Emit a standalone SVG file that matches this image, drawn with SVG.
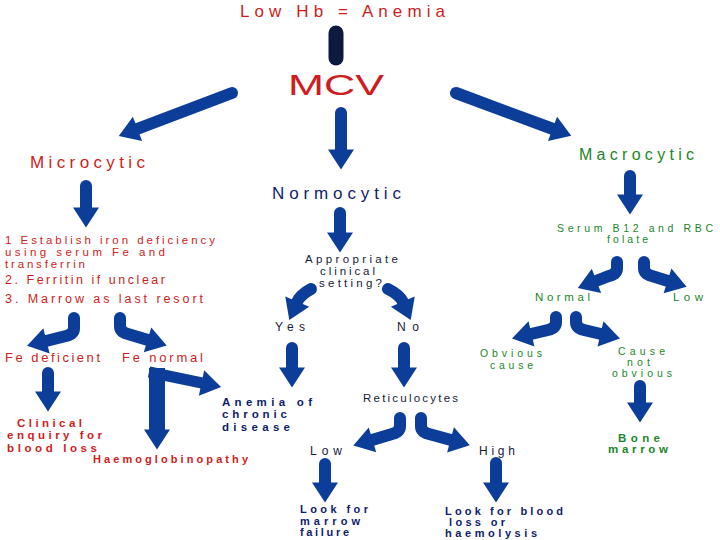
<svg xmlns="http://www.w3.org/2000/svg" width="720" height="540" viewBox="0 0 720 540">
<style>
text{font-family:"Liberation Sans",Arial,sans-serif;}
.r{fill:#d01c1c}.g{fill:#21862a}.n{fill:#101c6c}.k{fill:#161a3a}
.b{font-weight:bold}
.a{fill:none;stroke:#0b3d99;stroke-width:12;stroke-linecap:round;marker-end:url(#ah)}
.sq{stroke-linecap:butt;stroke-linejoin:miter}
</style>
<defs>
<marker id="ah" markerUnits="userSpaceOnUse" markerWidth="20" markerHeight="26" viewBox="0 0 20 26" refX="0.5" refY="13" orient="auto" overflow="visible">
<path d="M0,0 L20,13 L0,26 Z" fill="#0b3d99"/>
</marker>
</defs>
<rect width="720" height="540" fill="#fff"/>
<g id="connectors">
<line x1="336" y1="33" x2="336" y2="58" stroke="#0b1a3e" stroke-width="15" stroke-linecap="round"/>
<path class="a" d="M232,93 L137,129"/>
<path class="a" d="M341,113 V150"/>
<path class="a" d="M456,93 L553,129"/>
<path class="a" d="M86,186 V208"/>
<path class="a" d="M74,318 L74,328 Q74,334 66,336 L46,341"/>
<path class="a" d="M120,318 L120,326 Q120,332 128,334 L148,340"/>
<path class="a" d="M48,373 V392"/>
<path class="a sq" style="stroke-width:16" d="M157,368 V430"/>
<path class="a sq" style="stroke-width:11" d="M149,372 L202,383"/>
<path class="a" d="M340,213 V233"/>
<path class="a" d="M311,289 Q300,295 297,302"/>
<path class="a" d="M388,289 Q400,295 403,302"/>
<path class="a" d="M292,348 V368"/>
<path class="a" d="M404,348 V368"/>
<path class="a" d="M400,418 L400,426 Q400,432 392,434 L372,440"/>
<path class="a" d="M421,418 L421,426 Q421,432 429,434 L451,440"/>
<path class="a" d="M325,464 V483"/>
<path class="a" d="M496,463 V483"/>
<path class="a" d="M630,176 V195"/>
<path class="a" d="M617,262 L617,268 Q617,274 609,276 L596,281"/>
<path class="a" d="M644,262 L644,268 Q644,274 652,276 L668,281"/>
<path class="a" d="M556,317 L556,322 Q556,328 548,330 L531,334"/>
<path class="a" d="M576,317 L576,322 Q576,328 584,330 L601,334"/>
<path class="a" d="M640,386 V403"/>
</g>
<g id="title"><text class="r" x="240" y="17" font-size="17" textLength="205">Low Hb = Anemia</text></g>
<g id="mcv"><text class="r" x="288" y="95" font-size="30" textLength="96" lengthAdjust="spacingAndGlyphs">MCV</text></g>
<g id="microcytic"><text class="r" x="30" y="168" font-size="17" textLength="115">Microcytic</text></g>
<g id="normocytic"><text class="n" x="272" y="199" font-size="17" textLength="129">Normocytic</text></g>
<g id="macrocytic"><text class="g" x="579" y="160" font-size="16" textLength="115">Macrocytic</text></g>
<g id="iron-steps" font-size="11.5">
<text class="r" x="5" y="244" textLength="210">1 Establish iron deficiency</text>
<text class="r" x="5" y="256" textLength="160">using serum Fe and</text>
<text class="r" x="5" y="268" textLength="80">transferrin</text>
<text class="r" x="5" y="284" textLength="160" font-size="12.5">2. Ferritin if unclear</text>
<text class="r" x="5" y="303" textLength="198" font-size="12.5">3. Marrow as last resort</text>
</g>
<g id="fe-deficient"><text class="r" x="5" y="362" font-size="13" textLength="95">Fe deficient</text></g>
<g id="fe-normal"><text class="r" x="122" y="362" font-size="13" textLength="81">Fe normal</text></g>
<g id="clinical-enquiry" font-size="11.5">
<text class="r b" x="17" y="427" textLength="65">Clinical</text>
<text class="r b" x="7" y="439" textLength="95">enquiry for</text>
<text class="r b" x="7" y="452" textLength="90">blood loss</text>
</g>
<g id="haemoglobinopathy"><text class="r b" x="93" y="463" font-size="11" textLength="155">Haemoglobinopathy</text></g>
<g id="appropriate" font-size="11.5">
<text class="k" x="305" y="263" textLength="93">Appropriate</text>
<text class="k" x="320" y="275" textLength="55">clinical</text>
<text class="k" x="319" y="287" textLength="63">setting?</text>
</g>
<g id="yes"><text class="k" x="275" y="331" font-size="12" textLength="30">Yes</text></g>
<g id="no"><text class="k" x="397" y="331" font-size="12" textLength="22">No</text></g>
<g id="chronic-disease" font-size="11.5">
<text class="n b" x="222" y="406" textLength="90">Anemia of</text>
<text class="n b" x="222" y="418" textLength="65">chronic</text>
<text class="n b" x="222" y="431" textLength="68">disease</text>
</g>
<g id="reticulocytes"><text class="k" x="363" y="402" font-size="11.5" textLength="95">Reticulocytes</text></g>
<g id="retic-low"><text class="k" x="310" y="455" font-size="12" textLength="32">Low</text></g>
<g id="retic-high"><text class="k" x="479" y="455" font-size="12" textLength="36">High</text></g>
<g id="marrow-failure" font-size="11">
<text class="n b" x="300" y="513" textLength="68">Look for</text>
<text class="n b" x="300" y="525" textLength="60">marrow</text>
<text class="n b" x="300" y="536" textLength="49">failure</text>
</g>
<g id="blood-loss-haemolysis" font-size="11">
<text class="n b" x="445" y="515" textLength="118">Look for blood</text>
<text class="n b" x="449" y="526" textLength="56">loss or</text>
<text class="n b" x="445" y="537" textLength="92">haemolysis</text>
</g>
<g id="serum" font-size="10.5">
<text class="g" x="557" y="232" textLength="156">Serum B12 and RBC</text>
<text class="g" x="607" y="243" textLength="41">folate</text>
</g>
<g id="normal"><text class="g" x="535" y="301" font-size="11.5" textLength="55">Normal</text></g>
<g id="macro-low"><text class="g" x="673" y="301" font-size="11.5" textLength="30">Low</text></g>
<g id="obvious-cause" font-size="10.5">
<text class="g" x="480" y="357" textLength="62">Obvious</text>
<text class="g" x="490" y="369" textLength="43">cause</text>
</g>
<g id="cause-not-obvious" font-size="10.5">
<text class="g" x="618" y="355" textLength="47">Cause</text>
<text class="g" x="627" y="366" textLength="23">not</text>
<text class="g" x="612" y="377" textLength="60">obvious</text>
</g>
<g id="bone-marrow" font-size="11.5">
<text class="g b" x="618" y="442" textLength="42">Bone</text>
<text class="g b" x="608" y="453" textLength="60">marrow</text>
</g>
</svg>
